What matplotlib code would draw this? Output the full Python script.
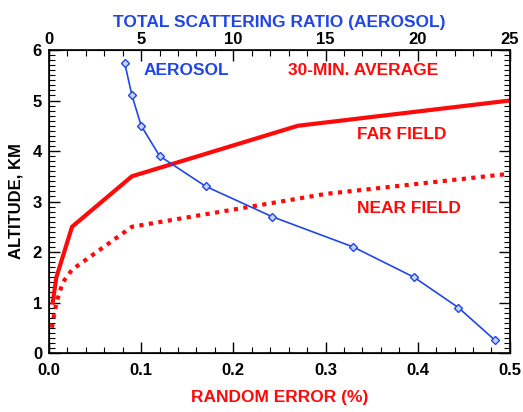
import matplotlib
matplotlib.use("Agg")
import matplotlib.pyplot as plt
from matplotlib.ticker import MultipleLocator

plt.rcParams['font.family'] = ['Liberation Sans', 'DejaVu Sans']
plt.rcParams['font.weight'] = 'bold'

RED = '#ff0a0a'
BLUE = '#2146e6'

# Far field (solid), random error (%) vs altitude (km)
far_err = [0.004, 0.008, 0.025, 0.09, 0.27, 0.5]
far_alt = [1.0, 1.5, 2.5, 3.5, 4.5, 5.0]

# Near field (dotted)
near_err = [0.003, 0.008, 0.015, 0.025, 0.09, 0.3, 0.5]
near_alt = [0.5, 1.0, 1.4, 1.65, 2.5, 3.15, 3.55]

# Aerosol total scattering ratio vs altitude
aer_ratio = [4.1, 4.5, 5.0, 6.0, 8.5, 12.1, 16.5, 19.8, 22.2, 24.2]
aer_alt = [5.75, 5.1, 4.5, 3.9, 3.3, 2.7, 2.1, 1.5, 0.9, 0.25]

bottom_ticks = [0.0, 0.1, 0.2, 0.3, 0.4, 0.5]
bottom_labels = ['0.0', '0.1', '0.2', '0.3', '0.4', '0.5']
top_ticks = [0, 5, 10, 15, 20, 25]
y_ticks = [0, 1, 2, 3, 4, 5, 6]

FS_TICK = 12
FS_LAB = 12.5
FS_TXT = 12.5

fig = plt.figure(figsize=(5.23, 4.12), dpi=100)
ax = fig.add_axes([0.0937, 0.1432, 0.8813, 0.7354])

ax.plot(far_err, far_alt, color=RED, lw=3.0, solid_joinstyle='miter')
ax.plot(near_err, near_alt, color=RED, lw=3.0, linestyle=(0, (1.0, 1.3)),
        dash_capstyle='butt')

ax.set_xlim(0, 0.5)
ax.set_ylim(0, 6)
ax.set_xticks(bottom_ticks)
ax.set_xticklabels(bottom_labels)
ax.set_yticks(y_ticks)
ax.xaxis.set_minor_locator(MultipleLocator(0.02))
ax.yaxis.set_minor_locator(MultipleLocator(0.1))
ax.tick_params(axis='both', which='major', direction='in', length=8, width=1.0,
               labelsize=FS_TICK, pad=5)
ax.tick_params(axis='x', which='major', pad=7)
ax.tick_params(axis='both', which='minor', direction='in', length=4, width=0.8)
ax.tick_params(axis='y', which='both', right=True)
ax.tick_params(axis='y', which='both', labelright=False)
for s in ax.spines.values():
    s.set_linewidth(1.2)

ax.set_xlabel('RANDOM ERROR (%)', color=RED, fontsize=FS_LAB, fontweight='bold', labelpad=9)
ax.set_ylabel('ALTITUDE, KM', color='black', fontsize=12, fontweight='bold', labelpad=7)

ax2 = ax.twiny()
ax2.plot(aer_ratio, aer_alt, color=BLUE, lw=1.2, marker='D', markersize=4,
         markerfacecolor='#c8d2ff', markeredgecolor=BLUE, markeredgewidth=1.0)
ax2.set_xlim(0, 25)
ax2.set_xticks(top_ticks)
ax2.xaxis.set_minor_locator(MultipleLocator(1))
ax2.tick_params(axis='x', which='major', direction='in', length=8, width=1.0,
                labelsize=FS_TICK, pad=2)
ax2.tick_params(axis='x', which='minor', direction='in', length=4, width=0.8)
ax2.set_xlabel('TOTAL SCATTERING RATIO (AEROSOL)', color=BLUE, fontsize=FS_LAB,
               fontweight='bold', labelpad=4)

ax2.text(5.15, 5.6, 'AEROSOL', color=BLUE, fontsize=FS_TXT, fontweight='bold',
         va='center', ha='left')
ax.text(0.259, 5.6, '30-MIN. AVERAGE', color=RED, fontsize=FS_TXT, fontweight='bold',
        va='center', ha='left')
ax.text(0.334, 4.32, 'FAR FIELD', color=RED, fontsize=FS_TXT, fontweight='bold',
        va='center', ha='left')
ax.text(0.334, 2.87, 'NEAR FIELD', color=RED, fontsize=FS_TXT, fontweight='bold',
        va='center', ha='left')

fig.savefig('out.png', dpi=100)
